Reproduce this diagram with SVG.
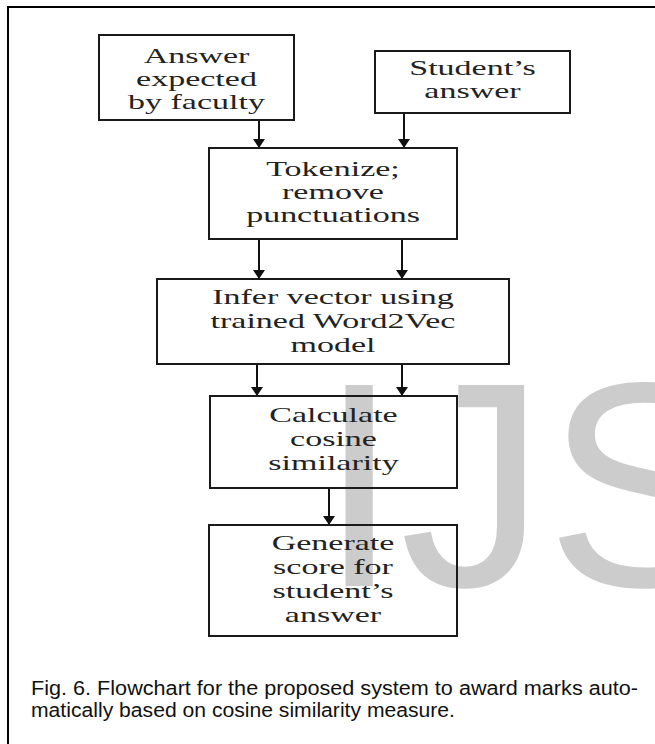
<svg xmlns="http://www.w3.org/2000/svg" width="655" height="744" viewBox="0 0 655 744">
<style>
.frame{stroke:#000;stroke-width:2;fill:none}
.box{fill:none;stroke:#1a1a1a;stroke-width:2}
.lbl{font-family:"Liberation Serif","Times New Roman",serif;font-size:21px;fill:#222;text-anchor:middle}
.conn{stroke:#111;stroke-width:2;fill:none;marker-end:url(#ah)}
.wm{font-family:"Liberation Sans",Arial,sans-serif;font-size:292px;fill:#cccccc}
.cap{font-family:"Liberation Sans",Arial,sans-serif;font-size:20px;fill:#111}
</style>
<defs>
<marker id="ah" viewBox="0 0 10 10" refX="10" refY="5" markerWidth="9" markerHeight="12" markerUnits="userSpaceOnUse" orient="auto" preserveAspectRatio="none">
<path d="M0,0 L10,5 L0,10 z" fill="#111"/>
</marker>
</defs>
<rect x="0" y="0" width="655" height="744" fill="#fff"/>
<text class="wm" x="318.6" y="586">IJS</text>
<path class="frame" d="M8,744 V7 H655"/>

<g id="connectors">
<line class="conn" x1="259" y1="120" x2="259" y2="148"/>
<line class="conn" x1="404" y1="113" x2="404" y2="148"/>
<line class="conn" x1="259" y1="239" x2="259" y2="279"/>
<line class="conn" x1="402" y1="239" x2="402" y2="279"/>
<line class="conn" x1="257" y1="364" x2="257" y2="396"/>
<line class="conn" x1="402" y1="364" x2="402" y2="396"/>
<line class="conn" x1="329" y1="488" x2="329" y2="525"/>
</g>

<g id="answer-faculty">
<rect class="box" x="99" y="35" width="195" height="85"/>
<g transform="translate(196.5,0) scale(1.62,1)">
<text class="lbl" x="0" y="63">Answer</text>
<text class="lbl" x="0" y="86">expected</text>
<text class="lbl" x="0" y="109">by faculty</text>
</g>
</g>

<g id="student-answer">
<rect class="box" x="375" y="51" width="195" height="62"/>
<g transform="translate(472.5,0) scale(1.62,1)">
<text class="lbl" x="0" y="75">Student’s</text>
<text class="lbl" x="0" y="98">answer</text>
</g>
</g>

<g id="tokenize">
<rect class="box" x="209" y="148" width="248" height="91"/>
<g transform="translate(333,0) scale(1.62,1)">
<text class="lbl" x="0" y="176">Tokenize;</text>
<text class="lbl" x="0" y="199">remove</text>
<text class="lbl" x="0" y="222">punctuations</text>
</g>
</g>

<g id="infer-vector">
<rect class="box" x="157" y="279" width="352" height="85"/>
<g transform="translate(333,0) scale(1.62,1)">
<text class="lbl" x="0" y="304">Infer vector using</text>
<text class="lbl" x="0" y="328">trained Word2Vec</text>
<text class="lbl" x="0" y="352">model</text>
</g>
</g>

<g id="cosine">
<rect class="box" x="210" y="396" width="247" height="92"/>
<g transform="translate(333.5,0) scale(1.62,1)">
<text class="lbl" x="0" y="422">Calculate</text>
<text class="lbl" x="0" y="446">cosine</text>
<text class="lbl" x="0" y="470">similarity</text>
</g>
</g>

<g id="generate-score">
<rect class="box" x="209" y="525" width="248" height="111"/>
<g transform="translate(333,0) scale(1.62,1)">
<text class="lbl" x="0" y="550">Generate</text>
<text class="lbl" x="0" y="574">score for</text>
<text class="lbl" x="0" y="598">student’s</text>
<text class="lbl" x="0" y="622">answer</text>
</g>
</g>

<g id="caption">
<text class="cap" x="31" y="695" textLength="607" lengthAdjust="spacingAndGlyphs">Fig. 6. Flowchart for the proposed system to award marks auto-</text>
<text class="cap" x="31" y="717" textLength="424" lengthAdjust="spacingAndGlyphs">matically based on cosine similarity measure.</text>
</g>
</svg>
